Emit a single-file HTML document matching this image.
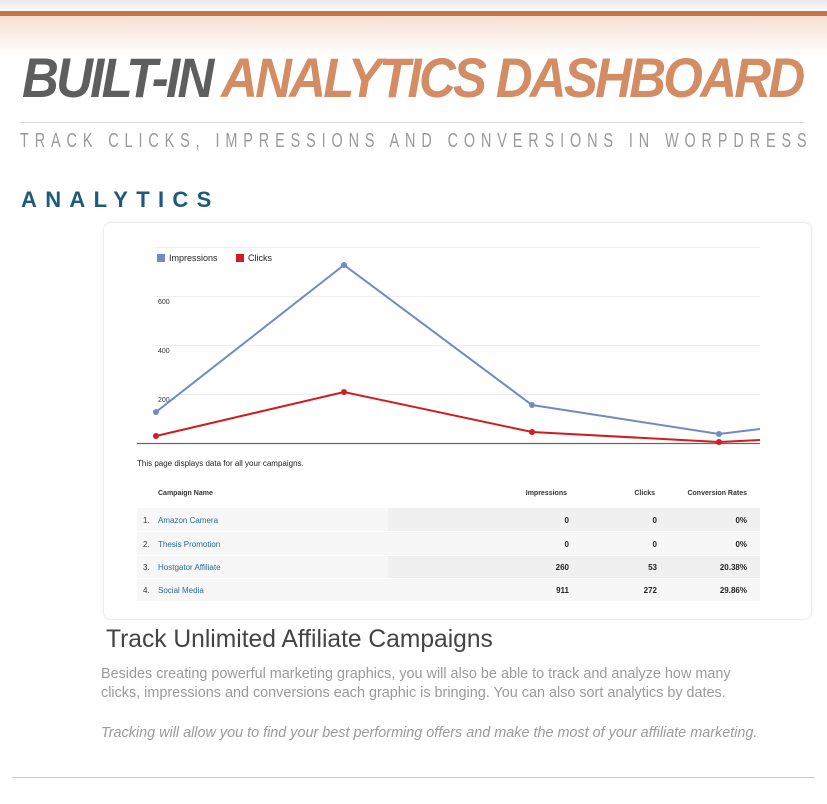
<!DOCTYPE html>
<html><head><meta charset="utf-8"><style>
*{margin:0;padding:0;box-sizing:border-box}
body{width:827px;height:804px;background:#fff;position:relative;overflow:hidden;font-family:"Liberation Sans",sans-serif}
.abs{position:absolute}
</style></head><body>
<div class="abs" style="left:0;top:0;width:827px;height:11px;background:linear-gradient(#e8e8e8,#fafafa)"></div>
<div class="abs" style="left:0;top:11px;width:827px;height:5px;background:#c8704a"></div>
<div class="abs" style="left:0;top:16px;width:827px;height:40px;background:linear-gradient(#f5dfd3,#fff)"></div>
<div class="abs" style="left:22px;top:46px;white-space:nowrap;font-weight:bold;font-style:italic;font-size:56px;letter-spacing:-3px;transform:scaleX(0.91);transform-origin:0 0;line-height:64px"><span style="color:#5e5e5e">BUILT-IN</span> <span style="color:#d48c64">ANALYTICS DASHBOARD</span></div>
<div class="abs" style="left:20px;top:122px;width:785px;height:1px;background:#ddd"></div>
<div class="abs" style="left:20px;top:129px;white-space:nowrap;font-size:20px;color:#9a9a9a;letter-spacing:8.2px;transform:scaleX(0.72);transform-origin:0 0;line-height:24px">TRACK CLICKS, IMPRESSIONS AND CONVERSIONS IN WORPDRESS</div>
<div class="abs" style="left:21px;top:187px;font-size:22px;font-weight:bold;color:#1d5a7c;letter-spacing:8.3px;line-height:26px">ANALYTICS</div>
<div class="abs" style="left:103px;top:222px;width:709px;height:398px;border:1px solid #eee;border-radius:8px;box-shadow:0 0 4px rgba(0,0,0,.05)"></div>
<svg class="abs" style="left:0;top:0" width="827" height="804">
<g stroke="#eee" stroke-width="1">
<line x1="155" y1="247.5" x2="760" y2="247.5"/><line x1="155" y1="296.5" x2="760" y2="296.5"/><line x1="155" y1="345.5" x2="760" y2="345.5"/><line x1="155" y1="394.5" x2="760" y2="394.5"/></g>
<line x1="137" y1="443.5" x2="760" y2="443.5" stroke="#666" stroke-width="1.2"/>
<rect x="157" y="254" width="8" height="8" fill="#6f8ac4"/><text x="169" y="261" font-size="9" fill="#222" font-family="Liberation Sans">Impressions</text>
<rect x="236" y="254" width="8" height="8" fill="#d01c22"/><text x="248" y="261" font-size="9" fill="#222" font-family="Liberation Sans">Clicks</text>
<g font-size="7" fill="#333" font-family="Liberation Sans"><text x="158" y="304">600</text><text x="158" y="353">400</text><text x="158" y="402">200</text></g>
<polyline points="156,412 344,265 532,405 719,434 760,429" fill="none" stroke="#6f8ac4" stroke-width="2"/>
<polyline points="156,436 344,392 532,432 719,442 760,440" fill="none" stroke="#d01c22" stroke-width="2"/>
<g fill="#6f8ac4"><circle cx="156" cy="412" r="3"/><circle cx="344" cy="265" r="3"/><circle cx="532" cy="405" r="3"/><circle cx="719" cy="434" r="3"/></g>
<g fill="#d01c22"><circle cx="156" cy="436" r="3"/><circle cx="344" cy="392" r="3"/><circle cx="532" cy="432" r="3"/><circle cx="719" cy="442" r="3"/></g>
<text x="137" y="466" font-size="8" fill="#222" font-family="Liberation Sans">This page displays data for all your campaigns.</text>
<g font-size="7" font-weight="bold" fill="#333" font-family="Liberation Sans">
<text x="158" y="495">Campaign Name</text><text x="567" y="495" text-anchor="end">Impressions</text><text x="655" y="495" text-anchor="end">Clicks</text><text x="747" y="495" text-anchor="end">Conversion Rates</text></g>
<g>
<rect x="137" y="508" width="623" height="23" fill="#f7f7f7"/><rect x="388" y="508" width="372" height="23" fill="#f0f0f0"/>
<rect x="137" y="532" width="623" height="23" fill="#f7f7f7"/>
<rect x="137" y="556" width="623" height="22" fill="#f7f7f7"/><rect x="388" y="556" width="372" height="22" fill="#f0f0f0"/>
<rect x="137" y="579" width="623" height="22" fill="#f7f7f7"/></g>
<g font-size="8" font-family="Liberation Sans" fill="#333">
<text x="143" y="523">1.</text><text x="143" y="547">2.</text><text x="143" y="570">3.</text><text x="143" y="593">4.</text></g>
<g font-size="8" font-family="Liberation Sans" fill="#2a6b96">
<text x="158" y="523">Amazon Camera</text><text x="158" y="547">Thesis Promotion</text><text x="158" y="570">Hostgator Affiliate</text><text x="158" y="593">Social Media</text></g>
<g font-size="8" font-weight="bold" font-family="Liberation Sans" fill="#222" text-anchor="end">
<text x="569" y="523">0</text><text x="657" y="523">0</text><text x="747" y="523">0%</text>
<text x="569" y="547">0</text><text x="657" y="547">0</text><text x="747" y="547">0%</text>
<text x="569" y="570">260</text><text x="657" y="570">53</text><text x="747" y="570">20.38%</text>
<text x="569" y="593">911</text><text x="657" y="593">272</text><text x="747" y="593">29.86%</text></g>
</svg>
<div class="abs" style="left:106px;top:626px;font-size:24.6px;color:#444;line-height:28px">Track Unlimited Affiliate Campaigns</div>
<div class="abs" style="left:101px;top:665px;width:665px;font-size:14.4px;color:#9a9a9a;line-height:19px">Besides creating powerful marketing graphics, you will also be able to track and analyze how many clicks, impressions and conversions each graphic is bringing. You can also sort analytics by dates.</div>
<div class="abs" style="left:101px;top:724px;font-size:14.4px;color:#9a9a9a;font-style:italic;line-height:19px;white-space:nowrap">Tracking will allow you to find your best performing offers and make the most of your affiliate marketing.</div>
<div class="abs" style="left:12px;top:777px;width:803px;height:1px;background:#ccc"></div>
</body></html>
